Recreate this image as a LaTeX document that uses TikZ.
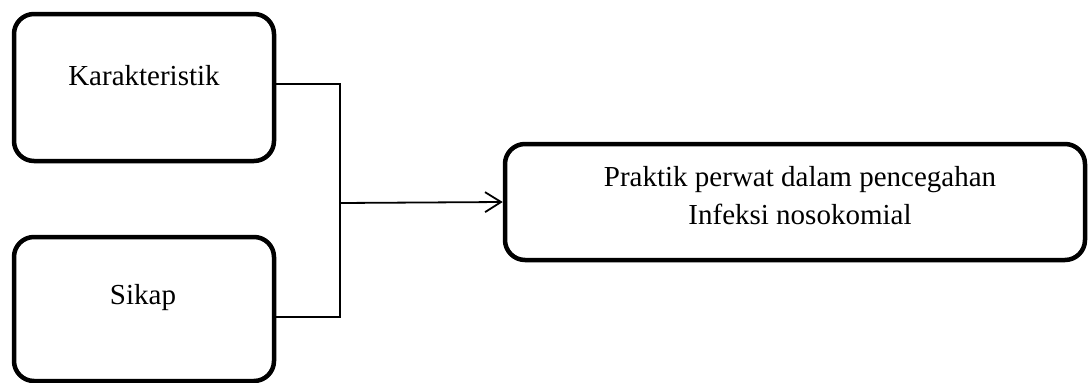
\documentclass[tikz,border=0pt]{standalone}
\usepackage{fontspec}
\setmainfont{Liberation Serif}
\usetikzlibrary{arrows.meta}
\begin{document}
\begin{tikzpicture}[x=1pt,y=-1pt,
  box/.style={draw, line width=4.5pt, rounded corners=20pt, inner sep=0pt},
  conn/.style={line width=1.8pt},
  lbl/.style={font=\fontsize{29}{38}\selectfont, align=center, inner sep=0pt}]
\useasboundingbox (0,0) rectangle (1088,383);
\node[box, minimum width=260pt, minimum height=147pt] (kbox) at (144,87.5) {};
\node[box, minimum width=260pt, minimum height=144pt] (sbox) at (144,309) {};
\node[box, minimum width=580pt, minimum height=116pt] (pbox) at (795,202) {};
\node[lbl] (ktext) at (144,76) {Karakteristik};
\node[lbl] (stext) at (143,298) {Sikap};
\node[lbl] (ptext) at (800,196) {Praktik perwat dalam pencegahan\\Infeksi nosokomial};
\coordinate (j) at (340,203);
\draw[conn] ([yshift=3.5pt]kbox.east) -| (j);
\draw[conn] ([yshift=-8pt]sbox.east) -| (j);
\draw[conn, -{Straight Barb[length=16pt,width=20pt]}] (j) -- (pbox.west);
\end{tikzpicture}
\end{document}
